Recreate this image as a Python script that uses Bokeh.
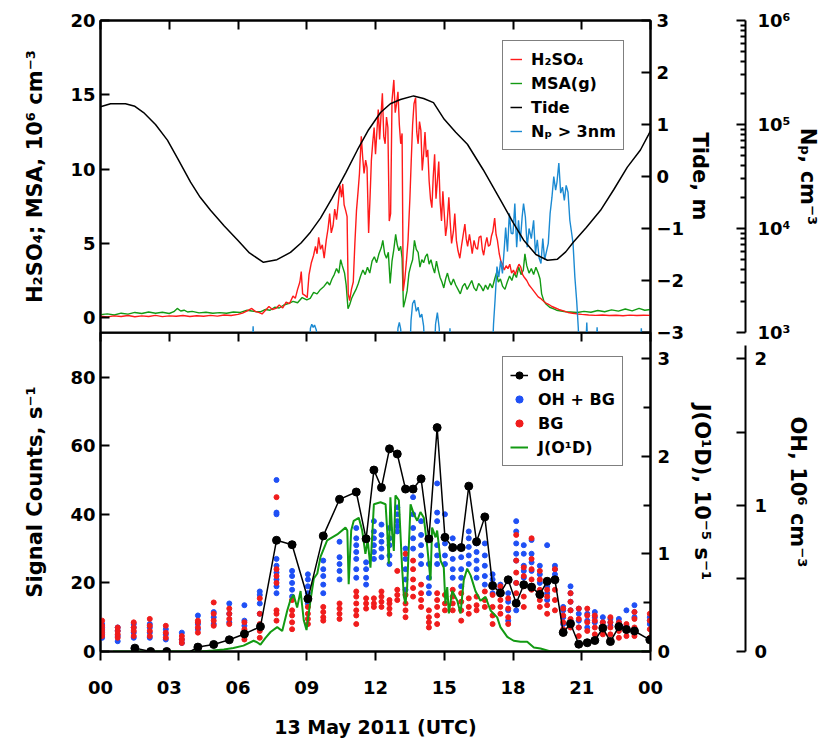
from bokeh.plotting import figure
from bokeh.models import (Range1d, LinearAxis, LogAxis, LogScale, FixedTicker,
                          Legend, LegendItem)
from bokeh.layouts import column
from bokeh.embed import file_html
from bokeh.resources import INLINE

FONT = "DejaVu Sans"

# ---------------- data ----------------
HOUR_TICKS = [0, 3, 6, 9, 12, 15, 18, 21, 24]
HOUR_LABELS = ["00", "03", "06", "09", "12", "15", "18", "21", "00"]

TIDE = [(0.0, 1.34), (0.44, 1.40), (1.09, 1.40), (1.5, 1.35), (1.88, 1.23), (2.4, 1.0),
        (2.92, 0.70), (3.4, 0.32), (3.93, -0.11), (4.35, -0.4), (4.8, -0.65), (5.4, -0.95),
        (5.98, -1.22), (6.5, -1.47), (7.11, -1.65), (7.7, -1.6), (8.29, -1.46), (8.75, -1.28),
        (9.16, -1.07), (9.6, -0.8), (10.1, -0.42), (10.7, 0.07), (11.21, 0.51), (11.7, 0.9),
        (12.22, 1.23), (12.65, 1.40), (13.09, 1.48), (13.66, 1.55), (14.1, 1.5), (14.53, 1.42),
        (15.0, 1.1), (15.5, 0.85), (16.01, 0.62), (16.7, 0.13), (17.45, -0.45), (18.0, -0.88),
        (18.46, -1.22), (19.0, -1.5), (19.5, -1.61), (19.94, -1.59), (20.3, -1.45),
        (20.64, -1.26), (21.2, -0.98), (21.82, -0.65), (22.4, -0.25), (22.99, 0.18),
        (23.56, 0.51), (23.91, 0.80), (24.0, 0.88)]

H2SO4 = [(0.0, 0.10), (0.3, 0.05), (0.6, 0.12), (0.9, 0.08), (1.2, 0.14), (1.5, 0.06), (1.8, 0.12),
         (2.1, 0.08), (2.4, 0.15), (2.7, 0.07), (3.0, 0.12), (3.3, 0.09), (3.6, 0.14), (3.9, 0.08),
         (4.2, 0.13), (4.5, 0.09), (4.8, 0.15), (5.1, 0.10), (5.4, 0.18), (5.7, 0.14), (6.0, 0.22),
         (6.2, 0.30), (6.4, 0.45), (6.6, 0.62), (6.75, 0.42), (6.9, 0.35), (7.05, 0.25), (7.2, 0.50),
         (7.35, 0.75), (7.5, 0.55), (7.65, 0.62), (7.8, 0.85), (7.95, 0.65), (8.1, 1.05), (8.25, 0.95),
         (8.4, 1.45), (8.5, 1.30), (8.6, 1.90), (8.7, 2.40), (8.76, 3.10), (8.82, 1.60), (8.92, 1.50),
         (9.02, 1.35), (9.1, 2.90), (9.2, 3.70), (9.3, 4.20), (9.38, 4.80), (9.45, 4.30), (9.52, 5.40),
         (9.6, 4.60), (9.68, 4.90), (9.76, 4.00), (9.85, 5.20), (9.93, 6.00), (10.0, 7.00),
         (10.07, 5.70), (10.15, 6.20), (10.22, 7.30), (10.3, 6.60), (10.38, 7.80), (10.45, 8.90),
         (10.52, 8.10), (10.57, 9.00), (10.63, 7.60), (10.7, 7.20), (10.76, 6.80), (10.81, 1.60),
         (10.87, 1.15), (10.95, 1.90), (11.03, 2.40), (11.1, 5.00), (11.17, 7.20), (11.24, 8.50),
         (11.3, 9.70), (11.38, 12.20), (11.44, 10.80), (11.5, 9.70), (11.57, 10.60), (11.63, 10.10),
         (11.7, 5.70), (11.76, 8.00), (11.82, 10.60), (11.88, 11.80), (11.94, 12.80), (12.0, 11.00),
         (12.06, 12.50), (12.12, 14.00), (12.18, 12.00), (12.24, 13.60), (12.3, 15.10),
         (12.36, 12.20), (12.42, 11.70), (12.48, 13.50), (12.54, 12.80), (12.6, 6.50), (12.66, 7.00),
         (12.72, 14.60), (12.8, 16.00), (12.86, 13.80), (12.92, 14.40), (12.98, 15.20),
         (13.04, 13.00), (13.1, 11.70), (13.16, 12.40), (13.21, 1.80), (13.28, 2.60), (13.35, 3.80),
         (13.42, 5.20), (13.5, 8.00), (13.56, 10.60), (13.62, 13.00), (13.68, 14.40), (13.75, 14.80),
         (13.8, 12.50), (13.86, 11.70), (13.92, 13.20), (13.98, 12.60), (14.04, 9.90), (14.1, 11.00),
         (14.16, 12.50), (14.22, 10.80), (14.28, 11.30), (14.34, 9.20), (14.4, 8.00), (14.46, 7.40),
         (14.52, 9.50), (14.58, 11.00), (14.64, 8.00), (14.7, 9.20), (14.76, 10.50), (14.82, 7.80),
         (14.88, 6.50), (14.94, 8.50), (15.0, 7.00), (15.06, 5.50), (15.12, 6.20), (15.2, 8.10),
         (15.26, 6.40), (15.32, 5.00), (15.4, 5.80), (15.46, 7.00), (15.53, 5.20), (15.6, 4.50),
         (15.68, 4.00), (15.75, 4.80), (15.82, 5.50), (15.9, 6.30), (15.96, 5.30), (16.02, 4.80),
         (16.1, 5.60), (16.16, 5.00), (16.22, 4.30), (16.3, 5.20), (16.38, 4.70), (16.45, 4.60),
         (16.52, 5.40), (16.6, 5.50), (16.66, 4.60), (16.72, 4.20), (16.8, 5.00), (16.86, 5.40),
         (16.93, 4.80), (17.0, 4.90), (17.06, 5.50), (17.12, 5.80), (17.2, 6.70), (17.26, 5.60),
         (17.32, 5.20), (17.4, 4.30), (17.47, 3.80), (17.54, 3.60), (17.62, 3.20), (17.7, 3.50),
         (17.78, 3.30), (17.86, 3.60), (17.94, 3.00), (18.02, 3.20), (18.1, 2.90), (18.18, 3.30),
         (18.26, 3.60), (18.34, 3.40), (18.42, 2.90), (18.5, 2.70), (18.6, 2.50), (18.7, 2.20),
         (18.8, 2.00), (18.9, 1.80), (19.0, 1.60), (19.1, 1.40), (19.2, 1.30), (19.3, 1.15),
         (19.42, 1.00), (19.55, 0.90), (19.7, 0.75), (19.85, 0.65), (20.0, 0.55), (20.2, 0.45),
         (20.4, 0.35), (20.6, 0.30), (20.8, 0.25), (21.0, 0.22), (21.3, 0.18), (21.6, 0.15),
         (21.9, 0.18), (22.2, 0.14), (22.5, 0.16), (22.8, 0.13), (23.1, 0.17), (23.4, 0.14),
         (23.7, 0.16), (24.0, 0.15)]

MSA = [(0.0, 0.20), (0.3, 0.25), (0.6, 0.18), (0.9, 0.30), (1.2, 0.24), (1.5, 0.35), (1.8, 0.28),
       (2.1, 0.38), (2.4, 0.30), (2.7, 0.36), (3.0, 0.28), (3.2, 0.40), (3.35, 0.62), (3.5, 0.45),
       (3.65, 0.50), (3.8, 0.38), (4.0, 0.42), (4.3, 0.32), (4.6, 0.36), (4.9, 0.30), (5.2, 0.34),
       (5.5, 0.30), (5.8, 0.38), (6.1, 0.35), (6.4, 0.50), (6.6, 0.45), (6.8, 0.40), (7.0, 0.40),
       (7.2, 0.55), (7.4, 0.50), (7.6, 0.70), (7.8, 0.65), (8.0, 0.85), (8.2, 0.95), (8.4, 1.10),
       (8.6, 1.00), (8.8, 1.35), (9.0, 1.20), (9.15, 1.30), (9.3, 1.70), (9.45, 1.60), (9.6, 1.90),
       (9.75, 2.10), (9.9, 2.40), (10.0, 2.20), (10.1, 2.60), (10.2, 2.90), (10.3, 3.30),
       (10.4, 3.00), (10.48, 3.90), (10.55, 3.50), (10.65, 3.00), (10.72, 2.20), (10.8, 0.60),
       (10.88, 0.90), (10.96, 1.30), (11.05, 1.60), (11.15, 1.90), (11.25, 2.30), (11.35, 2.80),
       (11.45, 3.20), (11.55, 2.90), (11.65, 3.40), (11.75, 3.00), (11.85, 3.80), (11.95, 4.10),
       (12.05, 3.70), (12.15, 4.30), (12.25, 4.70), (12.32, 5.20), (12.4, 4.30), (12.48, 4.00),
       (12.56, 4.40), (12.64, 2.30), (12.72, 3.80), (12.8, 4.60), (12.88, 5.60), (12.95, 4.90),
       (13.02, 4.50), (13.1, 4.80), (13.16, 4.00), (13.22, 0.70), (13.3, 1.20), (13.38, 1.80),
       (13.46, 3.00), (13.54, 3.50), (13.62, 3.90), (13.7, 5.20), (13.78, 4.60), (13.86, 4.40),
       (13.94, 3.40), (14.02, 3.90), (14.1, 3.70), (14.18, 4.10), (14.26, 4.30), (14.34, 3.60),
       (14.42, 3.90), (14.5, 3.40), (14.58, 3.00), (14.66, 3.80), (14.74, 3.20), (14.82, 2.70),
       (14.9, 2.40), (14.98, 2.00), (15.06, 2.60), (15.14, 3.00), (15.22, 2.50), (15.3, 2.20),
       (15.4, 2.60), (15.5, 2.20), (15.6, 1.90), (15.7, 1.60), (15.8, 2.10), (15.9, 2.30),
       (16.0, 1.90), (16.1, 2.20), (16.2, 2.50), (16.3, 2.00), (16.4, 1.80), (16.5, 2.30),
       (16.6, 2.10), (16.7, 1.80), (16.8, 2.20), (16.9, 1.90), (17.0, 2.30), (17.1, 2.00),
       (17.2, 2.60), (17.28, 3.00), (17.36, 2.40), (17.45, 2.60), (17.55, 2.10), (17.65, 1.90),
       (17.75, 2.40), (17.85, 2.80), (17.95, 2.50), (18.05, 3.00), (18.15, 2.70), (18.25, 3.40),
       (18.35, 2.90), (18.45, 3.20), (18.52, 4.30), (18.6, 3.50), (18.7, 3.00), (18.8, 3.30),
       (18.9, 2.90), (19.0, 3.40), (19.1, 3.00), (19.18, 2.60), (19.25, 1.60), (19.35, 1.10),
       (19.45, 0.90), (19.6, 0.70), (19.75, 0.60), (19.9, 0.50), (20.1, 0.45), (20.3, 0.40),
       (20.5, 0.38), (20.8, 0.35), (21.1, 0.42), (21.4, 0.36), (21.7, 0.48), (22.0, 0.40),
       (22.3, 0.52), (22.6, 0.44), (22.9, 0.58), (23.2, 0.46), (23.5, 0.62), (23.75, 0.50),
       (24.0, 0.55)]

# particle number (values of 500 lie below the 10^3 axis floor)
NP = [(6.60, 500), (6.66, 1150), (6.72, 500), (9.08, 500), (9.16, 1100), (9.22, 1200),
      (9.28, 1120), (9.34, 1180), (9.42, 1050), (9.48, 500), (12.92, 500), (12.98, 1100),
      (13.04, 1250), (13.1, 1080), (13.16, 500), (13.48, 500), (13.55, 1300), (13.62, 1900),
      (13.7, 2050), (13.78, 1600), (13.86, 1750), (13.94, 1400), (14.02, 1500), (14.1, 1150),
      (14.18, 500), (14.55, 500), (14.62, 1200), (14.7, 1550), (14.78, 1100), (14.86, 500),
      (15.18, 500), (15.25, 1100), (15.32, 500), (17.08, 500), (17.15, 1200), (17.22, 2100),
      (17.3, 4300), (17.38, 3400), (17.46, 4900), (17.54, 3700), (17.62, 6500), (17.68, 10200),
      (17.76, 6000), (17.84, 14000), (17.92, 9000), (18.0, 8900), (18.08, 17400), (18.16, 6600),
      (18.24, 12000), (18.32, 7500), (18.4, 13000), (18.46, 17400), (18.54, 12900), (18.62, 6600),
      (18.7, 10000), (18.8, 8000), (18.9, 12000), (18.98, 5800), (19.06, 7800), (19.14, 5200),
      (19.22, 4600), (19.3, 8000), (19.38, 5000), (19.46, 6000), (19.54, 7200), (19.62, 14000),
      (19.7, 20000), (19.78, 31600), (19.86, 23400), (19.92, 28000), (20.0, 42600),
      (20.08, 21900), (20.16, 25000), (20.24, 18600), (20.32, 26000), (20.4, 22400),
      (20.48, 12000), (20.56, 9000), (20.62, 7200), (20.7, 3400), (20.78, 2000), (20.85, 1100),
      (20.9, 500), (21.15, 500), (21.22, 1250), (21.29, 500), (21.6, 500), (21.67, 1120),
      (21.74, 500), (23.52, 500), (23.6, 1100), (23.67, 500)]

OH = [(1.50, 0.023), (2.19, 0.0), (2.89, 0.0), (3.57, -0.03), (4.25, 0.03), (4.94, 0.048),
      (5.62, 0.08), (6.28, 0.12), (6.98, 0.17), (7.68, 0.76), (8.36, 0.73), (9.05, 0.36),
      (9.72, 0.79), (10.43, 1.04), (11.16, 1.09), (11.59, 0.77), (11.93, 1.24), (12.26, 1.12),
      (12.61, 1.385), (12.95, 1.35), (13.31, 1.11), (13.64, 1.11), (13.99, 1.18), (14.33, 0.77),
      (14.69, 1.53), (15.03, 0.78), (15.37, 0.71), (15.74, 0.71), (16.07, 1.13), (16.41, 0.75),
      (16.77, 0.92), (17.11, 0.45), (17.45, 0.40), (17.79, 0.49), (18.14, 0.33), (18.47, 0.456),
      (18.81, 0.44), (19.17, 0.39), (19.49, 0.48), (19.83, 0.49), (20.19, 0.13), (20.51, 0.19),
      (20.87, 0.05), (21.24, 0.06), (21.57, 0.075), (21.92, 0.16), (22.25, 0.068), (22.62, 0.17),
      (22.95, 0.15), (23.30, 0.14), (23.97, 0.08)]

JO1D = [(0.55, 0.0), (4.36, 0.0), (4.9, 0.01), (5.38, 0.02), (5.8, 0.035), (6.24, 0.06),
        (6.68, 0.11), (6.83, 0.095), (6.98, 0.07), (7.2, 0.14), (7.42, 0.20), (7.71, 0.25),
        (7.93, 0.21), (8.15, 0.42), (8.29, 0.53), (8.43, 0.58), (8.58, 0.45), (8.73, 0.62),
        (8.87, 0.32), (8.99, 0.22), (9.16, 0.52), (9.31, 0.75), (9.46, 0.80), (9.6, 0.97),
        (9.89, 1.14), (10.33, 1.20), (10.69, 1.27), (10.77, 1.24), (10.83, 0.69), (10.94, 1.24),
        (11.05, 1.34), (11.27, 1.37), (11.42, 1.24), (11.56, 1.0), (11.66, 1.14), (11.78, 0.86),
        (11.93, 1.51), (12.22, 1.53), (12.44, 1.51), (12.51, 1.24), (12.58, 0.9), (12.65, 1.58),
        (12.73, 1.2), (12.8, 1.03), (12.87, 1.60), (13.02, 1.55), (13.16, 0.86), (13.24, 0.56),
        (13.31, 0.49), (13.38, 0.66), (13.53, 1.51), (13.67, 1.41), (13.82, 1.34), (13.96, 1.43),
        (14.11, 1.37), (14.26, 1.07), (14.40, 0.73), (14.47, 1.27), (14.62, 1.17), (14.69, 1.24),
        (14.84, 0.93), (14.98, 0.86), (15.05, 0.49), (15.13, 0.66), (15.20, 0.39), (15.35, 0.62),
        (15.57, 0.52), (15.71, 0.39), (15.85, 0.73), (16.00, 0.85), (16.15, 0.78), (16.36, 0.62),
        (16.58, 0.52), (16.80, 0.56), (17.02, 0.42), (17.31, 0.35), (17.45, 0.25), (17.75, 0.15),
        (18.03, 0.11), (18.33, 0.10), (18.62, 0.10), (18.91, 0.04), (19.20, 0.03), (19.64, 0.0),
        (24.0, 0.0)]

# signal-count sampling times (h) with OH+BG and BG counts in each cycle
CYCLE_T = [0.07, 0.75, 1.45, 2.15, 2.85, 3.55, 4.25, 4.94, 5.62, 6.28, 6.95, 7.68, 8.36, 9.05,
           9.72, 10.43, 11.16, 11.59, 11.93, 12.26, 12.61, 12.95, 13.31, 13.64, 13.99, 14.33,
           14.69, 15.03, 15.37, 15.74, 16.07, 16.41, 16.77, 17.11, 17.45, 17.79, 18.14, 18.47,
           18.81, 19.17, 19.49, 19.83, 20.19, 20.51, 20.87, 21.24, 21.57, 21.92, 22.25, 22.62,
           22.95, 23.30, 23.97]

OH_BG = [[4, 5, 6, 7, 8], [3, 4.5, 6, 7], [4, 5.5, 7, 8], [4, 5.5, 7, 8], [3.5, 5, 6.5],
         [2.5, 3.5, 5.5], [6.5, 8, 10.5], [8, 10, 11.5], [8.5, 11, 14], [5.5, 7.5, 9, 13.5],
         [11, 14, 16.5, 17.5], [17, 19, 21, 23, 25, 27, 40, 40.5, 50], [16, 18, 20, 22, 23.5],
         [14, 17, 19, 21, 22.5], [17, 19.5, 22, 24, 26.5], [21, 23.5, 25.5, 27.5, 32],
         [21.5, 24, 27, 29, 31, 33, 36], [19.5, 21.5, 24, 26], [27, 29, 31, 33, 35, 38],
         [27.5, 30, 32, 34, 37], [25.5, 28, 31, 33, 36], [35, 36.5, 38, 40, 42],
         [18, 21, 24, 27, 30], [30, 33, 36, 40, 45], [25.5, 28, 31, 34, 38], [17, 19, 21.5, 25.5],
         [25.5, 28, 31, 38, 40.5, 49], [25.5, 28, 31.5, 40], [21.5, 24, 27, 30, 33],
         [19, 21.5, 24, 27.5], [25.5, 28, 30.5, 33, 35], [21.5, 24, 26.5, 29, 31.5],
         [19.5, 22, 25, 28, 31.5], [17, 19, 21, 22.5], [17, 18.5, 19.5], [9, 12, 14.5, 17],
         [12, 20, 26.5, 28.5, 31.5, 35, 38], [21.5, 23.5, 25, 28.5, 31], [23.5, 26, 28.5, 32.5],
         [20, 22.5, 25], [15, 17, 19, 31], [22.5, 24, 25], [8, 10, 12, 13], [9, 12, 14.5, 17, 19],
         [7, 9, 11, 12.5], [7, 9, 11], [8.5, 10, 11.5], [7, 8.5, 10], [7.5, 8.5, 9.5],
         [7, 8.5, 9.5], [6, 7.5, 12], [10, 11.5, 13.5], [8, 9, 10]]

BG = [[4.5, 5.5, 6.5, 7.5, 9], [4, 5, 6, 7], [4.5, 6, 7, 8.5], [4.5, 6, 7.5, 9.5], [4, 5.5, 7.5],
      [2.5, 3.5, 4.5], [5.5, 7, 8.5, 9], [7.5, 9, 11, 14.3], [8, 9.5, 11, 12.5], [3.5, 5, 6.5, 8.5],
      [4, 6, 8, 11, 15.5], [9, 11, 12, 20, 22, 24, 45], [6.5, 8.5, 10.5, 12, 15], [8, 9.5, 11, 13],
      [9, 10, 11.5, 13], [9.5, 11, 12.5, 14], [8, 10.5, 12, 14, 16, 17.5], [12.5, 14, 15.5],
      [13, 14, 15.5], [13, 14.5, 16, 17.5], [11, 12.5, 14, 15], [15, 16.5, 18, 23.5],
      [10, 12, 14, 16.5, 28.5], [16, 18.5, 21, 24, 26.5], [13, 15, 17, 19.5], [7, 8.5, 10, 12],
      [8, 10.5, 13, 15, 17], [12, 14, 16.5], [12, 14, 16, 18], [9, 12, 14.5, 17], [11, 13, 15.5],
      [12, 13.5, 16], [13, 15, 17.5], [8, 10.5, 13, 16.5], [11, 13, 15, 17, 19], [8, 10, 12.5, 15.5],
      [14, 17, 20, 23, 26.5, 34], [13, 16, 19, 22, 24.5], [18, 21, 24, 27, 33], [13, 15, 18, 21, 23.5],
      [11, 13.5, 16, 18], [12, 15, 18, 21, 24], [6.5, 8.5, 10.5, 12.5], [7, 9.5, 12, 14.5, 17],
      [4.5, 7, 9.5, 12.5], [6, 8.5, 10.5, 12.5], [5, 7, 9, 10.5], [5, 6.5, 8.5], [5, 7, 8.5, 10],
      [4, 6, 8.5], [4.5, 6, 8], [4.5, 7, 9.5, 11.5], [4, 6.5, 9, 11]]

# ---------------- helpers ----------------
RED = "#ff1a1a"
GREEN = "#139a13"
NPBLUE = "#1b8ad2"
DOTBLUE = "#1f50f5"
DOTRED = "#f01c1c"
NAN = float("nan")


def unzip(pairs):
    return [p[0] for p in pairs], [p[1] for p in pairs]


def flatten(times, groups):
    xs, ys = [], []
    for t, g in zip(times, groups):
        for v in g:
            xs.append(t)
            ys.append(v)
    return xs, ys


def style(ax, tick_in=9, tick_out=0, standoff=6, label_standoff=10,
          label_size="18px", title_size="21px"):
    ax.axis_line_width = 2
    ax.axis_line_color = "black"
    ax.major_tick_line_width = 2
    ax.major_tick_line_color = "black"
    ax.major_tick_in = tick_in
    ax.major_tick_out = tick_out
    ax.minor_tick_line_width = 2
    ax.minor_tick_line_color = "black"
    ax.minor_tick_in = 0
    ax.minor_tick_out = 0
    ax.major_label_text_font = FONT
    ax.major_label_text_font_style = "bold"
    ax.major_label_text_font_size = label_size
    ax.major_label_text_color = "black"
    ax.major_label_standoff = standoff
    ax.axis_label_text_font = FONT
    ax.axis_label_text_font_style = "bold"
    ax.axis_label_text_font_size = title_size
    ax.axis_label_text_color = "black"
    ax.axis_label_standoff = label_standoff


def tick_only_axis():
    # x ticks along the top edge of a panel, pointing inward, no labels
    ax = LinearAxis(ticker=FixedTicker(ticks=HOUR_TICKS))
    style(ax, standoff=0, label_size="1px")
    ax.major_label_text_color = None
    return ax


def spacer(range_name, width, at):
    # empty band that pushes the outer axis away from the inner one
    return LinearAxis(y_range_name=range_name, ticker=FixedTicker(ticks=[at]),
                      major_tick_in=0, major_tick_out=width, minor_tick_in=0, minor_tick_out=0,
                      axis_line_color=None, major_tick_line_color="white",
                      major_tick_line_width=1, minor_tick_line_color=None,
                      major_label_standoff=0, major_label_text_font_size="1px",
                      major_label_text_color=None)


W = 832
OVER = 12          # px by which the lower panel overlaps the upper one's bottom border

# ---------------- top panel ----------------
p1 = figure(width=W, height=20 + 312 + OVER, x_range=Range1d(0, 24), y_range=Range1d(-1, 20),
            x_axis_location=None, y_axis_location=None,
            output_backend="svg", toolbar_location=None,
            min_border_left=100, min_border_right=182, min_border_top=20, min_border_bottom=OVER)
p1.grid.visible = False
p1.outline_line_color = "black"
p1.outline_line_width = 2
p1.background_fill_color = "white"
p1.border_fill_color = "white"
p1.extra_y_ranges = {"tide": Range1d(-3, 3), "np": Range1d(1e3, 1e6)}
p1.extra_y_scales = {"np": LogScale()}

ax = LinearAxis(ticker=FixedTicker(ticks=[0, 5, 10, 15, 20]),
                axis_label="H\u2082SO\u2084; MSA, 10\u2076 cm\u207b\u00b3")
style(ax, standoff=5, label_standoff=20)
p1.add_layout(ax, "left")
p1.add_layout(tick_only_axis(), "above")

ax = LinearAxis(y_range_name="tide", ticker=FixedTicker(ticks=[-3, -2, -1, 0, 1, 2, 3]),
                axis_label="Tide, m")
style(ax, standoff=6, label_standoff=1)
p1.add_layout(ax, "right")
p1.add_layout(spacer("tide", 30, 3), "right")

np_major = [1000, 10000, 100000, 1000000]
np_minor = [m * d for d in (1000, 10000, 100000) for m in range(2, 10)]
ax = LogAxis(y_range_name="np", ticker=FixedTicker(ticks=np_major, minor_ticks=np_minor),
             axis_label="N\u209a, cm\u207b\u00b3",
             major_label_overrides={1000: "10\u00b3", 10000: "10\u2074",
                                    100000: "10\u2075", 1000000: "10\u2076"})
style(ax, standoff=12, label_standoff=3)
ax.minor_tick_in = 5
p1.add_layout(ax, "right")

tx, tv = unzip(TIDE)
hx, hv = unzip(H2SO4)
mx, mv = unzip(MSA)
nx, nv = unzip(NP)
r_msa = p1.line(mx, mv, line_color=GREEN, line_width=1.4)
r_h2 = p1.line(hx, hv, line_color=RED, line_width=1.4)
r_np = p1.line(nx, nv, line_color=NPBLUE, line_width=1.4, y_range_name="np")
r_tide = p1.line(tx, tv, line_color="black", line_width=1.5, y_range_name="tide")

leg1 = Legend(items=[LegendItem(label="H\u2082SO\u2084", renderers=[r_h2]),
                     LegendItem(label="MSA(g)", renderers=[r_msa]),
                     LegendItem(label="Tide", renderers=[r_tide]),
                     LegendItem(label="N\u209a > 3nm", renderers=[r_np])],
              location=(402, 182), margin=0, padding=7, spacing=2,
              glyph_width=12, glyph_height=22, label_height=22, label_standoff=9,
              label_text_font=FONT, label_text_font_style="bold", label_text_font_size="16px",
              label_text_color="black", border_line_color="black", border_line_width=1.5,
              background_fill_color="white", background_fill_alpha=1.0)
p1.add_layout(leg1)

# ---------------- bottom panel ----------------
p2 = figure(width=W, height=319 + 93, x_range=p1.x_range, y_range=Range1d(0, 93),
            x_axis_location=None, y_axis_location=None,
            output_backend="svg", toolbar_location=None,
            min_border_left=100, min_border_right=182, min_border_top=0, min_border_bottom=93)
p2.margin = (-OVER, 0, 0, 0)
p2.grid.visible = False
p2.outline_line_color = "black"
p2.outline_line_width = 2
p2.background_fill_color = None
p2.border_fill_color = None
p2.extra_y_ranges = {"j": Range1d(0, 3.27), "oh": Range1d(0, 2.18)}

ax = LinearAxis(ticker=FixedTicker(ticks=[0, 20, 40, 60, 80]),
                axis_label="Signal Counts, s\u207b\u00b9")
style(ax, standoff=5, label_standoff=20)
p2.add_layout(ax, "left")
p2.add_layout(tick_only_axis(), "above")

ax = LinearAxis(ticker=FixedTicker(ticks=HOUR_TICKS), axis_label="13 May 2011 (UTC)",
                major_label_overrides=dict(zip(HOUR_TICKS, HOUR_LABELS)))
style(ax, tick_in=0, tick_out=9, standoff=20, label_standoff=19, title_size="19px")
p2.add_layout(ax, "below")

ax = LinearAxis(y_range_name="j", ticker=FixedTicker(ticks=[0, 1, 2, 3], minor_ticks=[0.5, 1.5, 2.5]),
                axis_label="J(O\u00b9D), 10\u207b\u2075 s\u207b\u00b9")
style(ax, standoff=7, label_standoff=17)
ax.minor_tick_in = 7
p2.add_layout(ax, "right")
p2.add_layout(spacer("j", 28, 0), "right")

ax = LinearAxis(y_range_name="oh", ticker=FixedTicker(ticks=[0, 0.5, 1, 1.5, 2]),
                bounds=(0, 2.09), axis_label="OH, 10\u2076 cm\u207b\u00b3",
                major_label_overrides={0.5: " ", 1.5: " "})
style(ax, standoff=9, label_standoff=16)
p2.add_layout(ax, "right")

bx, by = flatten(CYCLE_T, OH_BG)
rx, ry = flatten(CYCLE_T, BG)
ox, ov = unzip(OH)
jx, jv = unzip(JO1D)
p2.scatter(bx, by, size=5, color=DOTBLUE)
p2.scatter(rx, ry, size=5, color=DOTRED)
r_j = p2.line(jx, jv, y_range_name="j", line_color=GREEN, line_width=2)
r_ohl = p2.line(ox, ov, y_range_name="oh", line_color="black", line_width=1.5)
r_ohp = p2.scatter(ox, ov, y_range_name="oh", size=8, color="black")
# legend-only glyphs (no visible point) so that legend markers have the reference's size
lg_blue = p2.scatter([NAN], [NAN], size=8, color=DOTBLUE)
lg_red = p2.scatter([NAN], [NAN], size=8, color=DOTRED)

leg2 = Legend(items=[LegendItem(label="OH", renderers=[r_ohl, r_ohp]),
                     LegendItem(label="OH + BG", renderers=[lg_blue]),
                     LegendItem(label="BG", renderers=[lg_red]),
                     LegendItem(label="J(O\u00b9D)", renderers=[r_j])],
              location=(402, 185), margin=0, padding=7, spacing=2,
              glyph_width=18, glyph_height=22, label_height=22, label_standoff=10,
              label_text_font=FONT, label_text_font_style="bold", label_text_font_size="16px",
              label_text_color="black", border_line_color="black", border_line_width=1.5,
              background_fill_color="white", background_fill_alpha=1.0)
p2.add_layout(leg2)

layout = column(p1, p2, spacing=0)

open("out.html", "w").write(file_html(layout, INLINE))
